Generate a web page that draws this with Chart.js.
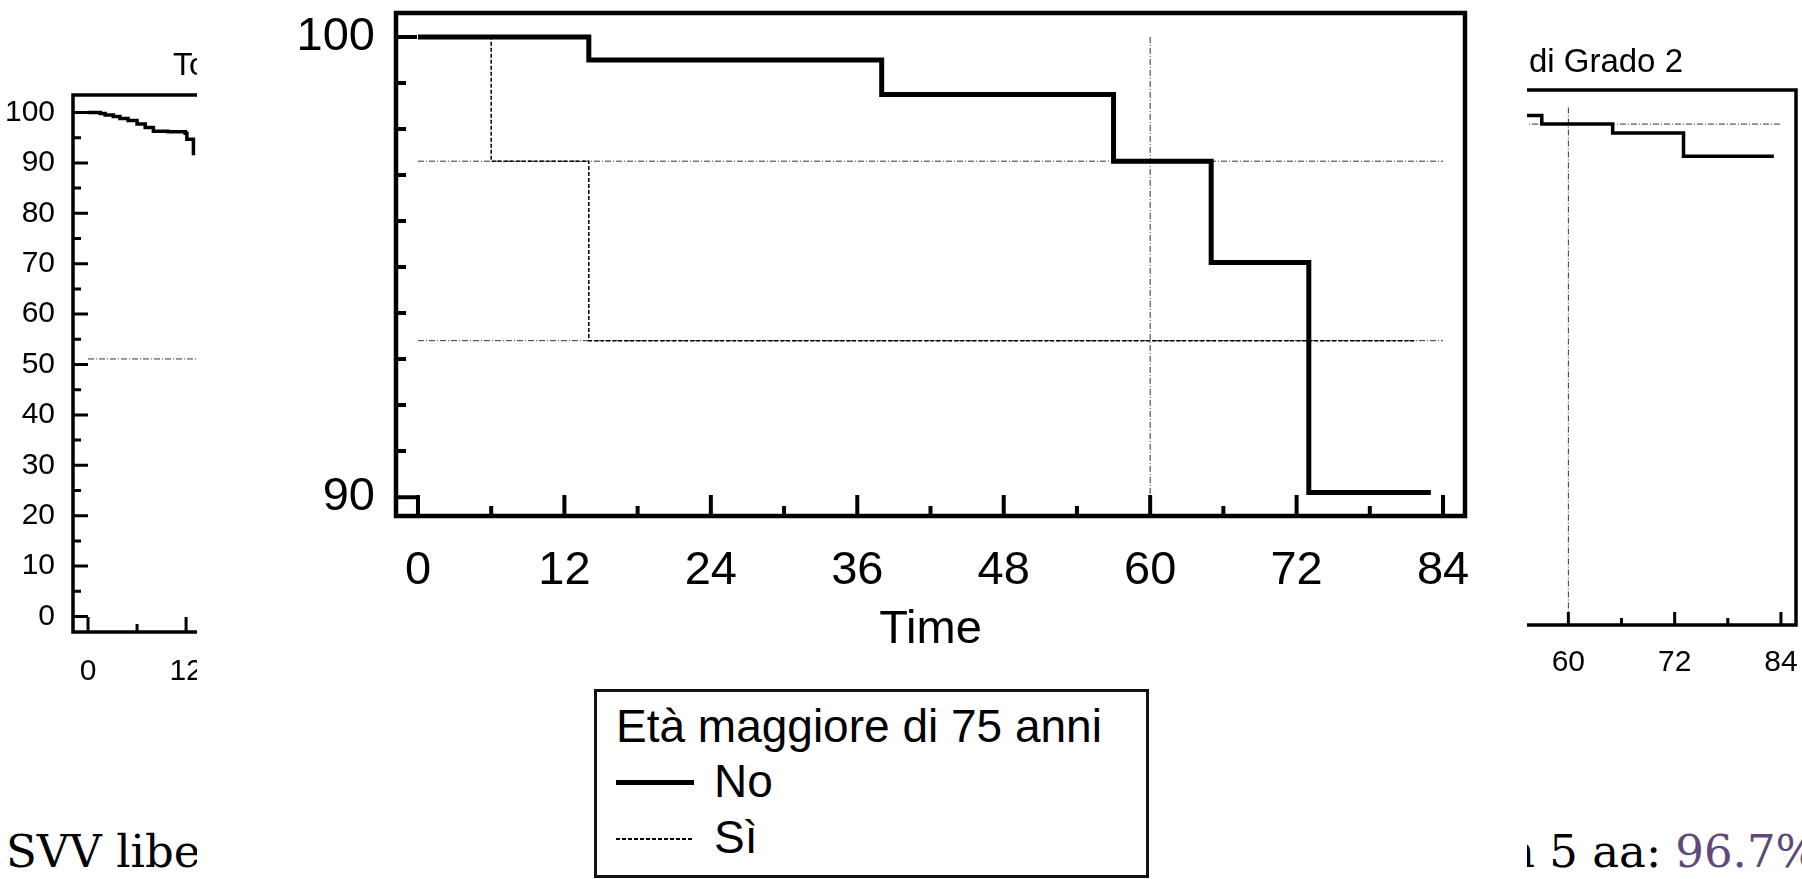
<!DOCTYPE html>
<html>
<head>
<meta charset="utf-8">
<script src="https://cdn.jsdelivr.net/npm/chart.js@4.4.1/dist/chart.umd.min.js"></script>
<style>
  html, body { margin: 0; padding: 0; background: #fff; }
  body { width: 1802px; height: 879px; position: relative; overflow: hidden; color: #000;
         font-family: 'Liberation Sans', Arial, sans-serif; }
  canvas { position: absolute; }
  .txt { position: absolute; white-space: nowrap; line-height: 1; }
  .serif { font-family: 'DejaVu Serif', 'Liberation Serif', serif; font-size: 45px; top: 829px; }
  #cover { position: absolute; left: 197px; top: 0; width: 1330px; height: 879px; background: #fff; z-index: 2; }
  #legendBox { position: absolute; left: 397px; top: 689px; width: 555px; height: 189px;
               box-sizing: border-box; border: 3px solid #111; }
  .lg { font-size: 46px; }
  .solid { position: absolute; left: 419px; top: 780px; width: 78px; height: 5px; background: #000; }
  .dash { position: absolute; left: 419px; top: 838px; width: 78px; height: 1.5px;
          background: repeating-linear-gradient(to right, #000 0 4px, transparent 4px 6px); }
</style>
</head>
<body>
<!-- background slide: left and right survival charts -->
<canvas id="totChart" width="800" height="700" style="left:0;top:0"></canvas>
<canvas id="g2Chart" width="902" height="700" style="left:900px;top:0"></canvas>
<div class="txt" style="left:173px;top:48px;font-size:32px">Totale pazienti</div>
<div class="txt" style="right:119px;top:44px;font-size:33px">Insufficienza residua di Grado 2</div>
<div class="txt serif" style="left:6px">SVV libera da reintervento</div>
<div class="txt serif" style="left:1506px">n 5 aa: <span style="color:#5f497a">96.7%</span></div>

<!-- main picture -->
<div id="cover">
  <canvas id="mainChart" width="1330" height="680" style="left:0;top:0"></canvas>
  <div id="legendBox"></div>
  <div class="txt lg" style="left:419px;top:703px">Età maggiore di 75 anni</div>
  <div class="solid"></div>
  <div class="txt lg" style="left:517px;top:758px">No</div>
  <div class="dash"></div>
  <div class="txt lg" style="left:517px;top:814px">Sì</div>
</div>

<script>
const FONT = "'Liberation Sans', Arial, sans-serif";

// main chart: Età maggiore di 75 anni
const monthLabels = [0, 12, 24, 36, 48, 60, 72, 84];
const monthMinor = [6, 18, 30, 42, 54, 66, 78];
const mainYLabels = [90, 100];
const mainYMinor = [91, 92, 93, 94, 95, 96, 97, 98, 99];

const noTime = [0, 14, 38, 57, 65, 73, 83];
const noSurv = [100, 99.5, 98.75, 97.3, 95.1, 90.1, 90.1];
const siTime = [0, 6, 14, 81.7];
const siSurv = [100, 97.3, 93.4, 93.4];
const refMonth = 60;

// background left chart (Totale)
const pctLabels = [0, 10, 20, 30, 40, 50, 60, 70, 80, 90, 100];
const pctMinor = [5, 15, 25, 35, 45, 55, 65, 75, 85, 95];
const totTime = [0, 1.5, 2.1, 3.1, 3.9, 4.9, 6.0, 7.0, 8.0, 9.8, 11.9, 12.1, 12.9];
const totSurv = [100, 99.8, 99.5, 99.2, 98.8, 98.4, 97.7, 97.0, 96.3, 96.2, 95.9, 94.7, 91.5];
const totRef = 51.1;

// background right chart (Grado 2)
const g2Time = [50, 57, 65, 73, 83.2];
const g2Surv = [98.4, 96.7, 94.9, 90.3, 90.3];

const pts = (t, s) => t.map((v, i) => ({ x: v, y: s[i] }));
const survAt = (t, s, m) => {
    let v = s[0];
    t.forEach((ti, i) => { if (ti <= m) v = s[i]; });
    return v;
};

function curve(t, s, width, dash) {
    return {
        data: pts(t, s), stepped: true, borderColor: '#000', borderWidth: width,
        borderDash: dash || [], pointRadius: 0, fill: false,
        borderJoinStyle: 'miter', borderCapStyle: 'butt'
    };
}

function refLines(levels, yTop, yBottom) {
    const style = { borderColor: '#333', borderWidth: 1, borderDash: [6, 2, 1, 2], pointRadius: 0, fill: false };
    const sets = levels.map(l => ({ ...style, data: [{ x: 0, y: l }, { x: 84, y: l }] }));
    sets.push({ ...style, data: [{ x: refMonth, y: yTop }, { x: refMonth, y: yBottom }] });
    return sets;
}

// frame around the plot and inward tick marks
function makeFrame(o) {
    return {
        id: 'kmFrame',
        afterDraw(chart) {
            const { ctx, chartArea: a, scales: { x, y } } = chart;
            ctx.save();
            ctx.strokeStyle = '#000';
            ctx.lineCap = 'butt';
            ctx.lineWidth = o.tickWidth;
            ctx.beginPath();
            x.ticks.forEach(t => {
                const px = x.getPixelForValue(t.value);
                const len = o.xMajor.includes(t.value) ? o.major : o.minor;
                ctx.moveTo(px, a.bottom);
                ctx.lineTo(px, a.bottom - len);
            });
            y.ticks.forEach(t => {
                const py = y.getPixelForValue(t.value);
                const len = o.yMajor.includes(t.value) ? o.major : o.minor;
                ctx.moveTo(a.left, py);
                ctx.lineTo(a.left + len, py);
            });
            ctx.stroke();
            ctx.lineWidth = o.frameWidth;
            ctx.lineJoin = 'miter';
            ctx.strokeRect(a.left, a.top, a.right - a.left, a.bottom - a.top);
            ctx.restore();
        }
    };
}

function axis(min, max, major, minor, fontSize, pad, fixSize, horizontal, title) {
    const s = {
        type: 'linear', min: min, max: max,
        grid: { display: false }, border: { display: false },
        afterBuildTicks: sc => {
            sc.ticks = [...major, ...minor].sort((a, b) => a - b).map(v => ({ value: v }));
        },
        afterFit: sc => {
            if (horizontal) sc.height = fixSize; else sc.width = fixSize;
            sc.paddingTop = 0; sc.paddingBottom = 0; sc.paddingLeft = 0; sc.paddingRight = 0;
        },
        ticks: {
            autoSkip: false, maxRotation: 0, padding: pad, color: '#000',
            font: { family: FONT, size: fontSize },
            callback: v => major.includes(v) ? String(v) : ''
        }
    };
    if (title) s.title = title;
    return s;
}

function kmChart(id, datasets, cfg) {
    return new Chart(document.getElementById(id).getContext('2d'), {
        type: 'line',
        data: { datasets: datasets },
        options: {
            responsive: false,
            animation: false,
            layout: { padding: cfg.padding },
            plugins: { legend: { display: false }, tooltip: { enabled: false } },
            scales: { x: cfg.x, y: cfg.y }
        },
        plugins: [makeFrame(cfg.frame)]
    });
}

// left background chart
kmChart('totChart', [
    curve(totTime, totSurv, 3.5),
    ...refLines([totRef], 100, -3.08)
], {
    padding: { top: 95, right: 11, left: 0, bottom: 0 },
    x: axis(-1.84, 85.8, monthLabels, monthMinor, 30, 14, 68, true),
    y: axis(-3.08, 103.47, pctLabels, pctMinor, 30, 10, 73, false),
    frame: { xMajor: monthLabels, yMajor: pctLabels, major: 15, minor: 8, tickWidth: 3, frameWidth: 3.5 }
});

// right background chart
kmChart('g2Chart', [
    curve(g2Time, g2Surv, 3.5),
    ...refLines([survAt(g2Time, g2Surv, refMonth)], 100, -3.09)
], {
    padding: { top: 90, right: 6, left: 0, bottom: 0 },
    x: axis(-1.8, 85.7, monthLabels, monthMinor, 30, 12, 75, true),
    y: axis(-3.09, 103.49, pctLabels, pctMinor, 30, 10, 121, false),
    frame: { xMajor: monthLabels, yMajor: pctLabels, major: 13, minor: 7, tickWidth: 3, frameWidth: 3.5 }
});

// main chart
const yMinMain = 89.59;
kmChart('mainChart', [
    curve(noTime, noSurv, 5),
    curve(siTime, siSurv, 1.5, [4, 2]),
    ...refLines([survAt(noTime, noSurv, refMonth), survAt(siTime, siSurv, refMonth)], 100, yMinMain)
], {
    padding: { top: 13, right: 62, left: 0, bottom: 0 },
    x: axis(-1.8, 85.8, monthLabels, monthMinor, 47, 19, 164, true, {
        display: true, text: 'Time', color: '#000',
        font: { family: FONT, size: 47 }, padding: { top: 0, bottom: 22 }
    }),
    y: axis(yMinMain, 100.52, mainYLabels, mainYMinor, 47, 13, 199, false),
    frame: { xMajor: monthLabels, yMajor: mainYLabels, major: 21, minor: 10, tickWidth: 4, frameWidth: 4.5 }
});
</script>
</body>
</html>
